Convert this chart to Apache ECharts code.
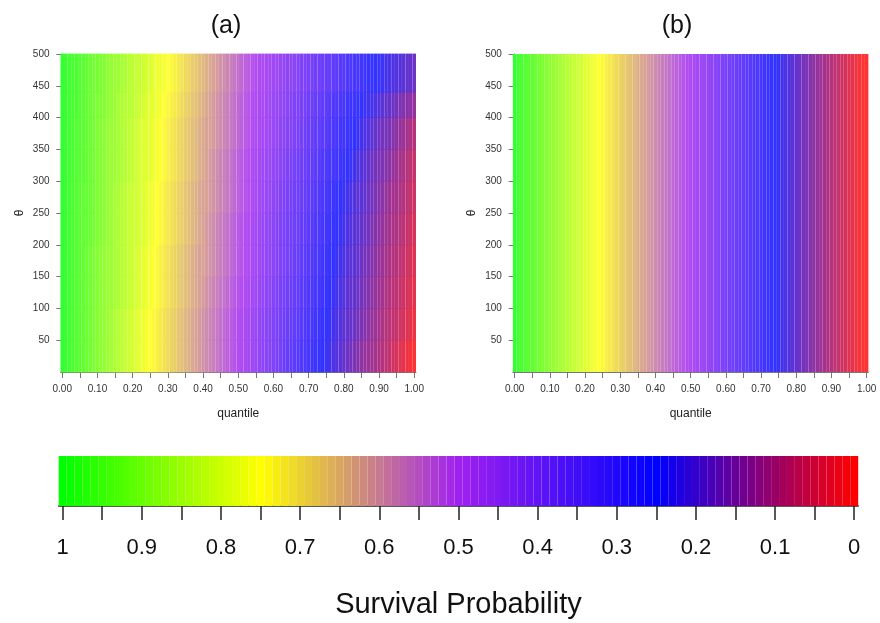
<!DOCTYPE html>
<html><head><meta charset="utf-8">
<script src="https://cdn.jsdelivr.net/npm/echarts@6/dist/echarts.min.js"></script>
<style>html,body{margin:0;padding:0;background:#fff}#c{width:880px;height:623px}</style>
</head><body><div id="c"></div>
<script>
// quantile grid (percent), same for both panels
const quantilePct = [0,1,2,3,4,5,6,7,8,9,10,11,12,13,14,15,16,17,18,19,20,21,22,23,24,25,26,27,28,29,30,31,32,33,34,35,36,37,38,39,40,41,42,43,44,45,46,47,48,49,50,51,52,53,54,55,56,57,58,59,60,61,62,63,64,65,66,67,68,69,70,71,72,73,74,75,76,77,78,79,80,81,82,83,84,85,86,87,88,89,90,91,92,93,94,95,96,97,98,99,100];

// theta bands for panel (a)
const thetaLowA  = [0, 50, 100, 150, 200, 250, 300, 350, 400, 440];
const thetaHighA = [50, 100, 150, 200, 250, 300, 350, 400, 440, 500];

// panel (a): survival probability (%) per quantile, one array per theta band
const survA_0_50 = [100,99,98,97,96,95,94,93,92,91,90,89,88,87,86,85,84,83,82,81,80,79,78,77,76,75,74,73,72,71,70,69,68,67,66,65,64,63,62,61,60,59,58,57,56,55,54,53,52,51,50,49,48,47,46,45,44,43,42,41,40,39,38,36,35,34,33,32,31,30,29,28,27,26,25,24,23,22,21,20,19,18,17,16,15,14,13,12,12,11,10,9,8,7,6,5,4,3,2,1,0];
const survA_50_100 = [100,99,98,97,96,95,94,93,92,91,90,89,88,87,86,85,84,83,82,81,80,79,78,77,76,75,74,73,72,71,70,69,68,67,66,65,64,63,62,61,60,59,58,57,56,55,54,53,52,51,50,49,48,47,46,45,44,43,42,41,40,39,38,37,36,35,34,33,32,31,30,29,28,27,26,25,24,23,22,21,20,19,19,18,17,16,15,14,13,12,11,10,9,8,8,7,6,5,4,3,2];
const survA_100_150 = [100,99,98,97,96,95,94,93,92,91,90,89,88,87,87,86,85,84,83,82,81,80,79,78,77,76,75,74,73,72,71,70,69,68,67,66,65,64,63,62,61,60,59,58,57,56,55,54,53,52,51,50,49,48,47,46,45,44,43,42,41,40,39,38,37,36,35,34,33,32,31,30,29,28,27,26,25,24,23,22,21,20,19,19,18,17,16,15,14,13,12,11,10,9,8,8,7,6,5,4,3];
const survA_150_200 = [100,99,98,97,96,95,94,93,92,91,90,89,88,87,87,86,85,84,83,82,81,80,79,78,77,76,75,74,73,72,71,70,69,68,67,66,65,64,63,62,62,61,60,59,58,57,56,55,54,53,52,51,50,49,48,47,46,45,44,43,42,41,40,39,38,37,36,35,34,33,32,31,30,29,28,27,26,25,24,23,22,21,20,20,19,18,17,16,15,14,13,12,11,10,9,9,8,7,6,5,4];
const survA_200_250 = [100,99,98,97,96,95,94,94,93,92,91,90,89,88,87,86,85,84,83,82,81,81,80,79,78,77,76,75,74,73,72,71,70,69,68,67,66,65,64,63,62,61,60,59,58,57,56,55,54,53,52,51,50,49,48,47,46,45,44,43,42,41,40,39,38,37,37,36,35,34,33,32,31,30,29,28,27,26,25,24,23,22,21,20,20,19,18,17,16,15,14,13,12,11,10,10,9,8,7,6,5];
const survA_250_300 = [100,99,98,97,96,95,94,94,93,92,91,90,89,88,87,86,85,84,83,82,81,81,80,79,78,77,76,75,74,73,72,71,70,69,68,67,66,65,64,63,62,62,61,60,59,58,57,56,55,54,53,52,51,50,49,48,47,46,45,44,43,42,41,40,39,38,37,37,36,35,34,33,32,31,30,29,28,27,26,25,24,23,22,21,20,20,19,18,17,16,15,14,13,12,11,11,10,9,8,7,6];
const survA_300_350 = [100,99,98,97,96,96,95,94,93,92,91,90,89,88,87,87,86,85,84,83,82,81,80,79,79,78,77,76,75,74,73,72,71,70,69,68,67,66,65,64,63,62,61,60,59,58,57,56,55,54,53,52,51,50,49,48,47,46,46,45,44,43,42,41,40,39,38,37,37,36,35,34,33,32,31,30,29,29,28,27,26,25,24,23,22,21,20,19,18,17,16,16,15,14,13,12,11,10,9,8,7];
const survA_350_400 = [100,99,98,97,96,96,95,94,93,92,91,90,89,88,87,87,86,85,84,83,82,81,80,79,79,78,77,76,75,74,73,72,71,70,69,68,67,66,65,64,63,62,62,61,60,59,58,57,56,55,54,53,52,51,50,49,48,47,47,46,45,44,43,42,41,41,40,39,38,37,36,35,34,34,33,32,31,30,29,28,28,27,26,25,24,23,22,21,20,19,18,17,17,16,15,14,13,12,11,10,9];
const survA_400_440 = [100,99,98,97,97,96,95,94,93,92,91,91,90,89,88,87,86,85,84,84,83,82,81,80,79,78,78,77,76,75,74,73,72,71,70,69,68,67,66,65,64,63,62,61,60,59,58,57,56,55,54,53,52,51,50,49,48,48,47,46,45,44,44,43,42,41,40,40,39,38,37,36,35,35,34,33,32,31,31,30,29,28,27,27,26,25,24,23,23,22,21,20,19,19,18,17,16,15,15,14,13];
const survA_440_500 = [100,99,98,97,97,96,95,94,93,92,92,91,90,89,88,87,87,86,85,84,83,82,82,81,80,79,78,77,77,76,75,74,73,72,71,70,69,68,67,66,65,64,63,62,61,60,59,58,57,56,55,54,53,52,51,50,49,49,48,47,46,46,45,44,43,43,42,41,40,40,39,38,37,37,36,35,35,34,33,32,32,31,30,29,29,28,27,26,26,25,24,24,23,22,22,21,21,20,19,19,18];
const survA_rows = [survA_0_50, survA_50_100, survA_100_150, survA_150_200, survA_200_250, survA_250_300, survA_300_350, survA_350_400, survA_400_440, survA_440_500];

// panel (b): survival (%) per quantile, constant over theta
const thetaLowB = [0];
const thetaHighB = [500];
const survB = [100,98,97,96,95,94,93,92,91,90,89,88,87,86,85,84,83,82,81,80,79,78,77,76,75,74,73,72,71,70,69,68,67,66,65,64,63,62,61,60,59,58,57,56,55,54,53,52,51,50,49,48,47,46,45,44,43,42,41,40,39,38,37,36,35,34,33,32,31,30,29,28,27,26,25,24,23,22,21,20,19,18,17,16,15,14,13,12,11,10,9,8,7,6,5,4,3,2,1,0,0];

// colour key levels (%)
const barLevelPct = [100,99,98,97,96,95,94,93,92,91,90,89,88,87,86,85,84,83,82,81,80,79,78,77,76,75,74,73,72,71,70,69,68,67,66,65,64,63,62,61,60,59,58,57,56,55,54,53,52,51,50,49,48,47,46,45,44,43,42,41,40,39,38,37,36,35,34,33,32,31,30,29,28,27,26,25,24,23,22,21,20,19,18,17,16,15,14,13,12,11,10,9,8,7,6,5,4,3,2,1,0];

// ticks / labels
const xTickValues = [0,0.05,0.1,0.15,0.2,0.25,0.3,0.35,0.4,0.45,0.5,0.55,0.6,0.65,0.7,0.75,0.8,0.85,0.9,0.95,1];
const xLabelValues = [0,0.1,0.2,0.3,0.4,0.5,0.6,0.7,0.8,0.9,1];
const yTickValues = [50,100,150,200,250,300,350,400,450,500];
const barTickValues = [0,0.05,0.1,0.15,0.2,0.25,0.3,0.35,0.4,0.45,0.5,0.55,0.6,0.65,0.7,0.75,0.8,0.85,0.9,0.95,1];
const barLabelValues = [0,0.1,0.2,0.3,0.4,0.5,0.6,0.7,0.8,0.9,1];
const paletteColors = ['#FF0000','#0000FF','#A020F0','#FFFF00','#00FF00'];

const FONT = "'Liberation Sans', Arial, Helvetica, sans-serif";
const halfW = (quantilePct[1] - quantilePct[0]) / 200;

function buildPanel(rows, lows, highs) {
  const out = [];
  rows.forEach((row, r) => {
    const n = Math.min(row.length, quantilePct.length);
    for (let k = 0; k < n; k++) {
      out.push([quantilePct[k] / 100, lows[r], highs[r], row[k], halfW]);
    }
  });
  return out;
}
const dataA = buildPanel(survA_rows, thetaLowA, thetaHighA);
const dataB = buildPanel([survB], thetaLowB, thetaHighB);
const dataBar = barLevelPct.map(v => [v / 100, 0, 1, v, halfW]);

// tint = colour seen through 80% opacity over white, drawn opaque
function tint(c, op) {
  const p = echarts.color.parse(c) || [0, 0, 0, 1];
  const m = ch => Math.round(ch * op + 255 * (1 - op));
  return 'rgb(' + m(p[0]) + ',' + m(p[1]) + ',' + m(p[2]) + ')';
}

function cellRenderer(opacity, padY) {
  return function (params, api) {
    const x = api.value(0), y0 = api.value(1), y1 = api.value(2), hw = api.value(4);
    const p0 = api.coord([x - hw, y1]);
    const p1 = api.coord([x + hw, y0]);
    return {
      type: 'rect',
      shape: { x: p0[0], y: p0[1] - padY, width: p1[0] - p0[0], height: p1[1] - p0[1] + 2 * padY },
      style: { fill: tint(api.visual('color'), opacity) }
    };
  };
}

function panelXAxis(gi) {
  return {
    type: 'value', gridIndex: gi, min: -0.005, max: 1.005,
    name: 'quantile', nameLocation: 'middle', nameGap: 36,
    nameTextStyle: { fontFamily: FONT, fontSize: 12, color: '#222' },
    axisLine: { show: true, lineStyle: { color: '#777', width: 1 } },
    axisTick: { show: true, length: 6, customValues: xTickValues, lineStyle: { color: '#777' } },
    axisLabel: { customValues: xLabelValues, fontFamily: FONT, fontSize: 10, color: '#333', margin: 12,
      formatter: v => v.toFixed(2) },
    splitLine: { show: false }
  };
}
function panelYAxis(gi) {
  return {
    type: 'value', gridIndex: gi, min: 0, max: 500,
    name: 'θ', nameLocation: 'middle', nameGap: 35, nameRotate: 90,
    nameTextStyle: { fontFamily: FONT, fontSize: 12, color: '#222' },
    axisLine: { show: true, lineStyle: { color: '#777', width: 1 } },
    axisTick: { show: true, length: 6, customValues: yTickValues, lineStyle: { color: '#777' } },
    axisLabel: { customValues: yTickValues, fontFamily: FONT, fontSize: 10, color: '#333', margin: 11 },
    splitLine: { show: false }
  };
}

const chart = echarts.init(document.getElementById('c'), null, { renderer: 'canvas' });
chart.setOption({
  animation: false,
  backgroundColor: '#fff',
  grid: [
    { left: 60.5, top: 54, width: 355.5, height: 318 },
    { left: 512.9, top: 54, width: 355.5, height: 318 },
    { left: 58.7, top: 456, width: 799.5, height: 50 }
  ],
  xAxis: [
    panelXAxis(0), panelXAxis(1),
    {
      type: 'value', gridIndex: 2, min: -0.005, max: 1.005, inverse: true,
      name: 'Survival Probability', nameLocation: 'middle', nameGap: 84,
      nameTextStyle: { fontFamily: FONT, fontSize: 29, color: '#111' },
      axisLine: { show: true, lineStyle: { color: '#222', width: 1.5 } },
      axisTick: { show: true, length: 14, customValues: barTickValues, lineStyle: { color: '#222', width: 1.5 } },
      axisLabel: { customValues: barLabelValues, fontFamily: FONT, fontSize: 22, color: '#111', margin: 31,
        formatter: v => String(Math.round(v * 10) / 10) },
      splitLine: { show: false }
    }
  ],
  yAxis: [
    panelYAxis(0), panelYAxis(1),
    { type: 'value', gridIndex: 2, min: 0, max: 1, show: false }
  ],
  visualMap: [{
    type: 'continuous', show: false, min: 0, max: 100, dimension: 3,
    seriesIndex: [0, 1, 2], inRange: { color: paletteColors }
  }],
  graphic: [
    { type: 'text', x: 226, y: 26, style: { text: '(a)', font: "25px " + FONT, fill: '#111',
      textAlign: 'center', textVerticalAlign: 'middle', align: 'center', verticalAlign: 'middle' } },
    { type: 'text', x: 677, y: 26, style: { text: '(b)', font: "25px " + FONT, fill: '#111',
      textAlign: 'center', textVerticalAlign: 'middle', align: 'center', verticalAlign: 'middle' } }
  ],
  series: [
    { type: 'custom', xAxisIndex: 0, yAxisIndex: 0, renderItem: cellRenderer(0.8, 0.4), data: dataA,
      encode: { x: [0], y: [1, 2] }, silent: true, clip: false },
    { type: 'custom', xAxisIndex: 1, yAxisIndex: 1, renderItem: cellRenderer(0.8, 0), data: dataB,
      encode: { x: [0], y: [1, 2] }, silent: true, clip: false },
    { type: 'custom', xAxisIndex: 2, yAxisIndex: 2, renderItem: cellRenderer(1, 0), data: dataBar,
      encode: { x: [0], y: [1, 2] }, silent: true, clip: false }
  ]
});
</script>
</body></html>
